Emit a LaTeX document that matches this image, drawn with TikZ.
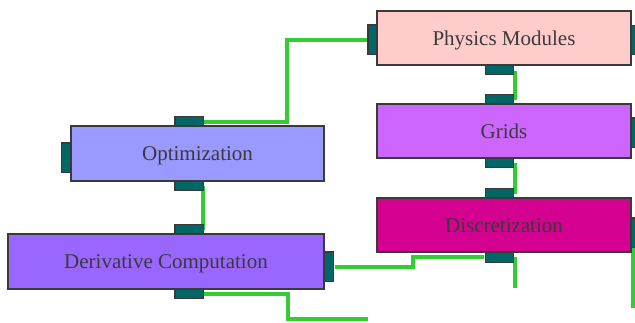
\documentclass[tikz,border=0pt]{standalone}
\usepackage{fontspec}
\setmainfont{Liberation Serif}
\definecolor{pink}{HTML}{FFCCCC}
\definecolor{gridc}{HTML}{CC66FF}
\definecolor{discc}{HTML}{D4008F}
\definecolor{optc}{HTML}{9999FF}
\definecolor{derc}{HTML}{9966FF}
\definecolor{portc}{HTML}{006666}
\definecolor{wire}{HTML}{33CC33}
\definecolor{edge}{HTML}{3A3A3A}
\begin{document}
\begin{tikzpicture}[x=1pt,y=-1pt,
  modbox/.style={draw=edge,line width=1.2pt,minimum height=54pt,inner sep=0pt,
    text height=15pt,text depth=1pt,
    font=\fontsize{21}{24}\selectfont,text=edge},
  hport/.style={draw=edge,fill=portc,line width=1.2pt,minimum width=27pt,minimum height=9pt,inner sep=0pt},
  vport/.style={draw=edge,fill=portc,line width=1.2pt,minimum width=9pt,minimum height=28pt,inner sep=0pt},
  wireline/.style={draw=wire,line width=4pt}]
\useasboundingbox (0,0) rectangle (635,322);
% ports
\node[hport] (physB) at (499.5,69.5) {};
\node[vport] (physL) at (373,39.5) {};
\node[vport] (physR) at (635.5,40) {};
\node[hport] (gridT) at (499.5,99.5) {};
\node[hport] (gridB) at (499.5,162.5) {};
\node[vport] (gridR) at (635.5,132.5) {};
\node[hport] (discT) at (499.5,193.5) {};
\node[hport] (discB) at (499.5,257) {};
\node[vport] (discR) at (635.5,232.5) {};
\node[vport] (optL) at (66.5,157.5) {};
\node[hport] (optT) at (189,121.5) {};
\node[hport] (optB) at (189,185.5) {};
\node[hport] (derT) at (189,229.5) {};
\node[vport] (derR) at (328.5,266.5) {};
\node[hport] (derB) at (189,293.5) {};
% wires
\coordinate (e6) at (368,319);
\draw[wireline] ([xshift=1pt]optT.east) -- ++(83,0) |- ([xshift=-1pt]physL.west);
\draw[wireline] ([xshift=1.5pt,yshift=-1.5pt]physB.east) -- ([xshift=1.5pt]gridT.east);
\draw[wireline] ([xshift=1.5pt]gridB.east) -- ([xshift=1.5pt]discT.east);
\draw[wireline] ([xshift=-0.5pt]optB.east) -- ([xshift=-0.5pt]derT.east);
\draw[wireline] ([xshift=1pt]derR.east) -- ++(78,0) |- ([xshift=-1pt]discB.west);
\draw[wireline] ([xshift=1pt]derB.east) -- ++(84,0) |- (e6);
\draw[wireline] ([xshift=1.5pt]discB.east) -- ++(0,31);
\draw[wireline] ([xshift=-2.5pt]discR.south) -- ++(0,61);
% redraw ports over wires
\foreach \p in {physB,physL,physR,gridT,gridB,gridR,discT,discB,discR,optL,optT,optB,derT,derR,derB}
  \draw[draw=edge,fill=portc,line width=1.2pt] (\p.north west) rectangle (\p.south east);
% modules
\node[modbox,fill=pink,minimum width=254pt] (phys) at (504,38) {Physics Modules};
\node[modbox,fill=gridc,minimum width=254pt] (grid) at (504,131) {Grids};
\node[modbox,fill=discc,minimum width=254pt] (disc) at (504,225) {Discretization};
\node[modbox,fill=optc,minimum width=253pt,minimum height=55pt] (opt) at (197.5,153.5) {Optimization};
\node[modbox,fill=derc,minimum width=316pt,minimum height=55pt] (der) at (166,261.5) {Derivative Computation};
\end{tikzpicture}
\end{document}
